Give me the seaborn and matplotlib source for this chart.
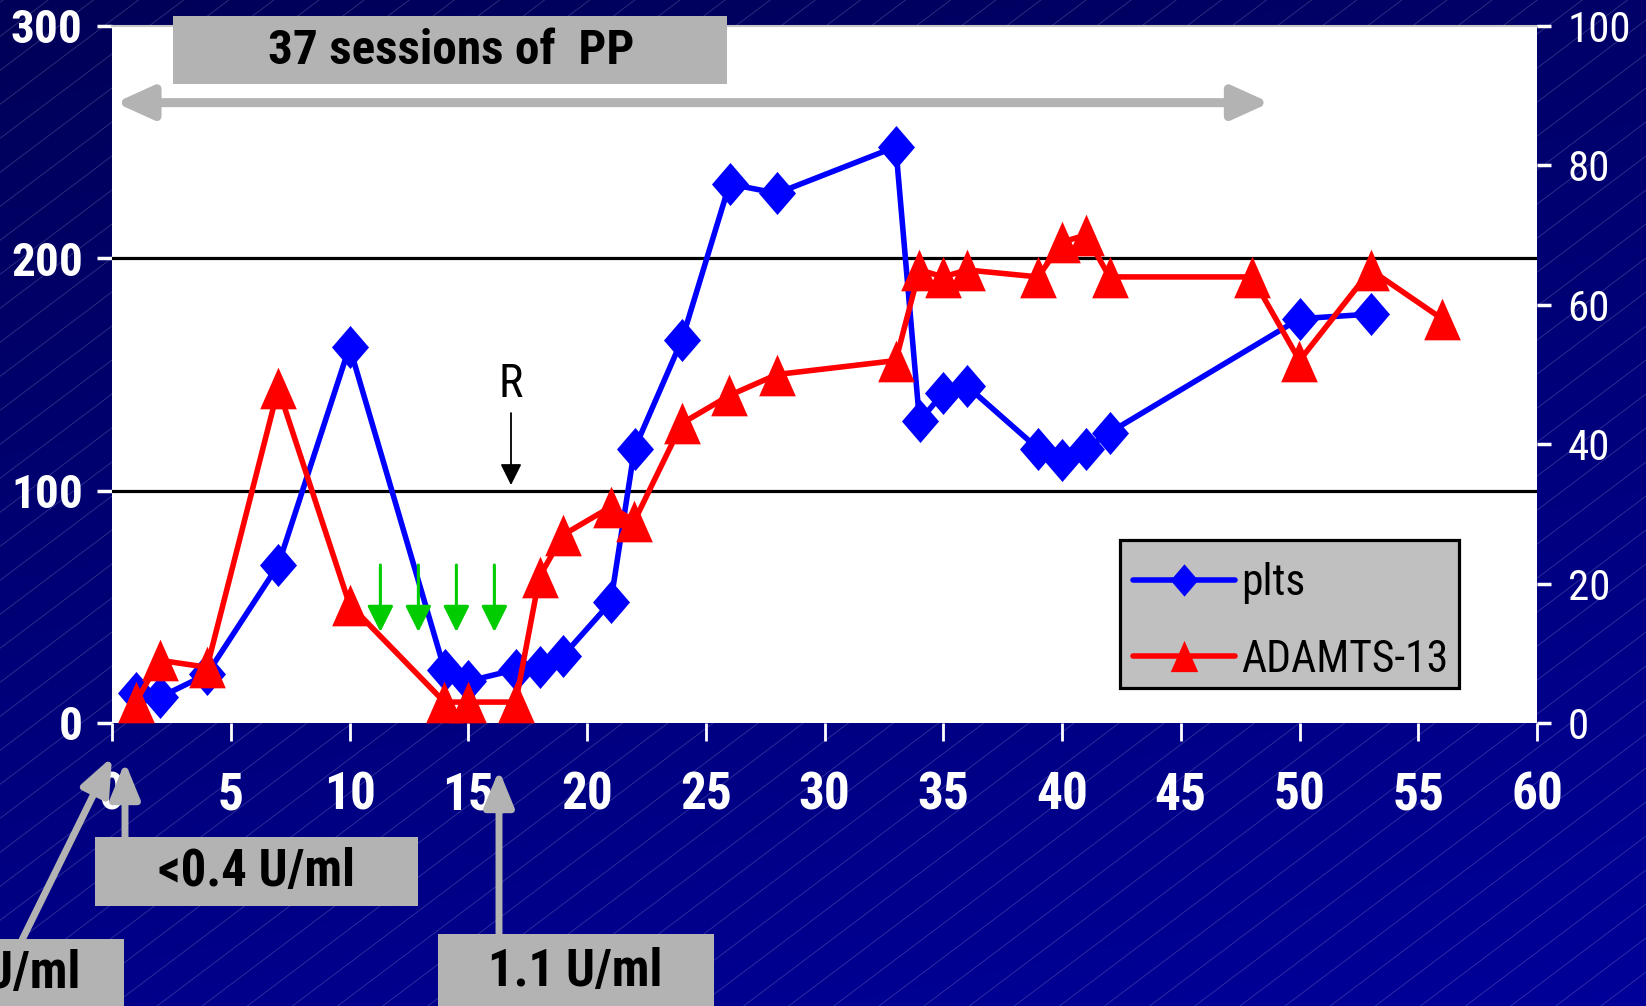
import numpy as np
import matplotlib
matplotlib.use("Agg")
import matplotlib.pyplot as plt
import matplotlib.font_manager as fm
import matplotlib.transforms as mtransforms
from matplotlib.path import Path
from matplotlib.markers import MarkerStyle
from matplotlib.lines import Line2D
from matplotlib.patches import Rectangle, FancyArrowPatch
import seaborn as sns

# ---------------- data ----------------
days_plts = [1, 2, 4, 7, 10, 14, 15, 17, 18, 19, 21, 22, 24, 26, 28, 33, 34, 35, 36, 39, 40, 41, 42, 50, 53]
plts = [13, 11, 21, 68, 162, 23, 18, 23, 24, 29, 52, 118, 165, 232, 228, 248, 130, 142, 145, 118, 113, 118, 125, 174, 176]

days_adamts = [1, 2, 4, 7, 10, 14, 15, 17, 18, 19, 21, 22, 24, 26, 28, 33, 34, 35, 36, 39, 40, 41, 42, 48, 50, 53, 56]
adamts = [3, 9, 8, 48, 17, 3, 3, 3, 21, 27, 31, 29, 43, 47, 50, 52, 65, 64, 65, 64, 69, 70, 64, 64, 52, 65, 58]

series_names = ["plts", "ADAMTS-13"]
x_ticks = list(range(0, 61, 5))
left_ticks = [0, 100, 200, 300]
right_ticks = [0, 20, 40, 60, 80, 100]
ref_lines = [100, 200]
green_arrow_days = [11.3, 12.9, 14.5, 16.1]
pp_label = "37 sessions of  PP"
box_labels = ["<0.4 U/ml", "0.1 U/ml", "1.1 U/ml"]

# ---------------- style ----------------
sns.set_style("white")
avail = {f.name for f in fm.fontManager.ttflist}
condensed_names = {f.name for f in fm.fontManager.ttflist
                   if str(f.stretch) in ("condensed", "semi-condensed", "extra-condensed", "ultra-condensed")}
FONT, STRETCH = None, "normal"
for cand in ["Liberation Sans Narrow", "Roboto Condensed", "Open Sans Condensed", "Noto Sans Condensed"]:
    if cand in avail:
        FONT = cand
        break
if FONT is None:
    for cand in ["Noto Sans", "Open Sans", "DejaVu Sans"]:
        if cand in condensed_names:
            FONT, STRETCH = cand, "condensed"
            break
if FONT is None:
    FONT = "Liberation Sans" if "Liberation Sans" in avail else "DejaVu Sans"
plt.rcParams["font.family"] = [FONT, "DejaVu Sans"]
plt.rcParams["font.stretch"] = STRETCH

W, H = 1646, 1006
fig = plt.figure(figsize=(W / 100, H / 100), dpi=100)
renderer = fig.canvas.get_renderer()


def fit(text, target_w, max_pt, weight="normal"):
    t = fig.text(0, 0, text, fontsize=max_pt, fontweight=weight)
    w = t.get_window_extent(renderer).width
    t.remove()
    return min(max_pt, max_pt * target_w / w)


def text_h(text, pt, weight="normal"):
    t = fig.text(0, 0, text, fontsize=pt, fontweight=weight)
    h = t.get_window_extent(renderer).height
    t.remove()
    return h


fs_x = fit("10", 52, 37, "bold")
fs_left = fit("300", 72, 34, "bold")
fs_right = fit("100", 65, 31)
fs_pp = fit(pp_label, 392, 35.5, "bold")
fs_box = min(fit(box_labels[0], 228, 36.5, "bold"), fit(box_labels[2], 192, 36.5, "bold"))
fs_leg = fit("ADAMTS-13", 208, 33)
fs_r = fit("R", 30, 33)

# background: navy gradient with faint diagonal lines
bg = fig.add_axes([0, 0, 1, 1], zorder=-10)
yy, xx = np.mgrid[0:1:200j, 0:1:200j]
t = 0.75 * yy + 0.25 * xx
c_top = np.array([0, 0, 0x58]) / 255
c_bot = np.array([0, 0, 0x99]) / 255
img = c_top + (c_bot - c_top) * t[..., None]
bg.imshow(img, extent=[0, W, 0, H], aspect="auto", origin="upper", interpolation="bilinear")
slope = np.tan(np.deg2rad(37))
for c in np.arange(-slope * W, H, 34):
    bg.plot([0, W], [c, c + slope * W], color="white", alpha=0.2, lw=0.6)
bg.set_xlim(0, W)
bg.set_ylim(0, H)
bg.axis("off")

# main axes
ax = fig.add_axes([112 / W, 1 - 723 / H, (1537 - 112) / W, (723 - 26) / H])
ax.set_facecolor("white")
ax2 = ax.twinx()
ax2.patch.set_visible(False)

diamond = MarkerStyle(Path([(0, 1), (0.86, 0), (0, -1), (-0.86, 0), (0, 1)], closed=True))
triangle = MarkerStyle(Path([(0, 1), (-0.88, -1), (0.88, -1), (0, 1)], closed=True))

for y in ref_lines:
    ax.axhline(y, color="black", lw=2.3, zorder=1)

sns.lineplot(x=days_plts, y=plts, ax=ax, color="#0000ff", lw=4, marker=diamond,
             markersize=31, markeredgewidth=0, clip_on=False, zorder=3)
sns.lineplot(x=days_adamts, y=adamts, ax=ax2, color="#ff0000", lw=4, marker=triangle,
             markersize=30, markeredgewidth=0, clip_on=False, zorder=3)

ax.set_xlim(0, 60)
ax.set_ylim(0, 300)
ax2.set_ylim(0, 100)
for a in (ax, ax2):
    a.set_xlabel("")
    a.set_ylabel("")
    for s in a.spines.values():
        s.set_visible(False)
ax.spines["top"].set_visible(True)
ax.spines["top"].set_color("#c8c8c8")
ax.spines["top"].set_linewidth(1.5)

ax.set_xticks(x_ticks)
ax.set_xticklabels([str(v) for v in x_ticks], fontsize=fs_x, fontweight="bold", color="white")
ax.set_yticks(left_ticks)
ax.set_yticklabels([str(v) for v in left_ticks], fontsize=fs_left, fontweight="bold", color="white")
ax.tick_params(axis="x", direction="out", length=13, width=2, color="white", pad=21, bottom=True)
ax.tick_params(axis="y", direction="out", length=11, width=2.5, color="white", pad=10, left=True)
ax2.set_yticks(right_ticks)
ax2.set_yticklabels([str(v) for v in right_ticks], fontsize=fs_right, color="white")
ax2.tick_params(axis="y", direction="out", length=10, width=2.5, color="white", pad=12, right=True)

# annotations inside the plot (drawn above lines)
ax2.annotate("", xy=(0.15, 267), xytext=(48.75, 267), xycoords=ax.transData, textcoords=ax.transData,
             arrowprops=dict(arrowstyle="<|-|>,head_length=22,head_width=10", lw=6.5, color="#b3b3b3",
                             shrinkA=0, shrinkB=0, mutation_scale=1))
ax2.text(16.8, 146, "R", transform=ax.transData, ha="center", va="center", fontsize=fs_r, color="black")
ax2.annotate("", xy=(16.8, 102.4), xytext=(16.8, 133.4), xycoords=ax.transData, textcoords=ax.transData,
             arrowprops=dict(arrowstyle="-|>,head_length=13,head_width=6.5", lw=1.3, color="black",
                             shrinkA=0, shrinkB=0, mutation_scale=1))
for d in green_arrow_days:
    ax2.annotate("", xy=(d, 39.2), xytext=(d, 68), xycoords=ax.transData, textcoords=ax.transData,
                 arrowprops=dict(arrowstyle="-|>,head_length=16,head_width=8", lw=2.2, color="#00cc00",
                                 shrinkA=0, shrinkB=0, mutation_scale=1))

# figure-pixel transform (y measured from bottom; helpers take y from top)
fpx = mtransforms.Affine2D().scale(1 / W, 1 / H) + fig.transFigure

# legend: frame box in reference at x 1120..1459, y 540..688 px; rows centred near y 580 and 656
ax2.add_patch(Rectangle((1120, H - 688), 1459 - 1120, 688 - 540, transform=fpx, facecolor="#c0c0c0",
                        edgecolor="black", lw=2.3, zorder=9, clip_on=False))
em = fs_leg * 100 / 72
th = text_h("ADAMTS-13", fs_leg)
row1_top = 583.5 - th / 2
handles = [
    Line2D([], [], color="#0000ff", lw=4, marker=diamond, ms=31, mew=0, solid_capstyle="round"),
    Line2D([], [], color="#ff0000", lw=4, marker=triangle, ms=30, mew=0, solid_capstyle="round"),
]
leg = ax2.legend(handles, series_names, loc="upper left", bbox_to_anchor=(1133 / W, 1 - row1_top / H),
                 bbox_transform=fig.transFigure, borderaxespad=0, fontsize=fs_leg, markerscale=0.75,
                 handlelength=102 / em, handletextpad=6 / em, labelspacing=max(0.1, (76 - th) / em),
                 borderpad=0, frameon=False)
leg.set_zorder(10)
for txt in leg.get_texts():
    txt.set_color("black")

GRAY = "#b3b3b3"


def box(x0, y0, x1, y1):
    fig.add_artist(Rectangle((x0, H - y1), x1 - x0, y1 - y0, transform=fpx, facecolor=GRAY,
                             edgecolor="none", zorder=5))


def arrow(x0, y0, x1, y1):
    fig.add_artist(FancyArrowPatch((x0, H - y0), (x1, H - y1), transform=fpx,
                                   arrowstyle="-|>,head_length=22,head_width=9", mutation_scale=1,
                                   lw=5, color=GRAY, shrinkA=0, shrinkB=0, zorder=6))


box(173, 16, 727, 84)
fig.text(451 / W, 1 - 51 / H, pp_label, ha="center", va="center", fontsize=fs_pp, fontweight="bold",
         color="black", zorder=7)

box(95, 837, 418, 906)
fig.text(257 / W, 1 - 872 / H, box_labels[0], ha="center", va="center", fontsize=fs_box, fontweight="bold",
         color="black", zorder=7)
arrow(125, 837, 125, 762)

box(-5, 939, 124, 1010)
fig.text(80 / W, 1 - 974 / H, box_labels[1], ha="right", va="center", fontsize=fs_box, fontweight="bold",
         color="black", zorder=7)
arrow(22, 940, 112, 757)

box(438, 934, 714, 1010)
fig.text(575 / W, 1 - 972 / H, box_labels[2], ha="center", va="center", fontsize=fs_box, fontweight="bold",
         color="black", zorder=7)
arrow(499, 934, 499, 770)

fig.savefig("out.png", dpi=100)
